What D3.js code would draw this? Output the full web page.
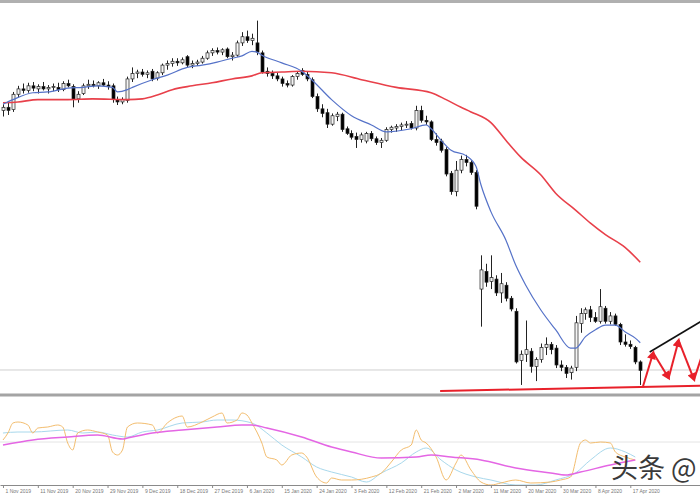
<!DOCTYPE html>
<html>
<head>
<meta charset="utf-8">
<script src="https://cdn.jsdelivr.net/npm/d3@7"></script>
<style>
  body { margin: 0; background: #fff; }
  svg { display: block; }
</style>
</head>
<body>
<div id="chart"></div>
<script>
// daily candles, 1 Nov 2019 .. Apr 2020 (bar index = position in arrays)
const opens  = [53.8,54.2,53.9,55.9,56.6,56.4,57.0,56.6,56.9,56.6,56.8,56.8,56.5,57.3,56.9,55.3,56.0,57.0,57.2,57.0,
                57.4,57.1,57.0,55.2,54.9,55.1,57.9,58.6,58.8,58.5,58.9,58.0,58.7,59.7,59.9,60.2,60.0,60.8,59.7,59.9,
                60.1,60.6,61.3,61.6,61.4,61.8,60.8,61.0,62.6,63.4,62.9,62.6,61.3,58.9,58.6,58.3,57.9,57.3,57.1,58.2,
                59.0,58.5,57.8,55.6,54.0,53.5,52.0,53.0,53.3,51.4,50.8,50.4,50.0,49.8,50.8,50.1,49.6,49.9,51.3,51.5,
                51.7,51.9,52.1,51.5,53.8,52.5,52.3,50.0,49.8,48.7,45.6,43.2,46.0,47.4,47.0,45.7,30.5,32.8,31.5,31.8,
                30.0,31.0,29.3,27.6,21.2,22.0,22.4,20.4,21.3,22.9,23.3,22.8,20.6,20.3,19.6,20.3,26.0,27.3,27.8,26.8,
                26.3,28.0,26.3,27.0,25.9,23.6,23.3,22.9,21.0];
const highs  = [54.6,55.0,56.2,57.0,57.3,57.4,57.5,57.2,57.5,57.1,57.3,57.4,57.6,57.8,57.2,56.3,57.3,57.8,57.7,57.6,
                57.9,57.6,57.3,55.6,55.5,58.2,59.4,59.1,59.2,59.0,59.2,58.9,59.9,60.3,60.6,60.6,60.7,61.0,60.3,60.4,
                60.9,61.6,61.9,62.0,61.9,62.0,61.4,62.9,64.0,64.2,63.8,65.5,61.6,59.4,59.0,58.7,58.2,57.7,58.4,58.8,
                59.3,58.8,58.1,56.0,54.6,54.0,53.4,53.6,53.5,51.7,51.2,50.9,50.9,51.0,51.1,50.4,50.2,51.6,51.8,52.0,
                52.2,52.4,52.4,54.4,54.4,53.1,52.5,50.8,50.1,49.0,45.9,47.2,47.9,48.0,47.3,46.0,34.9,33.8,34.9,32.3,
                32.6,31.4,29.6,28.0,22.5,26.4,22.8,21.6,23.4,24.2,23.6,23.2,21.2,20.6,20.5,27.0,28.0,28.1,28.3,27.5,
                30.5,28.3,27.5,27.3,26.1,24.6,23.8,23.1,21.2];
const lows   = [53.0,53.2,53.6,55.5,56.0,56.1,56.3,56.0,56.4,56.0,56.3,56.2,56.3,56.8,54.2,54.8,55.8,56.6,56.8,56.6,
                57.0,56.5,54.8,54.5,54.6,54.8,57.5,58.0,58.2,58.0,57.6,57.7,58.4,59.1,59.5,59.6,59.8,59.4,59.3,59.6,
                59.9,60.4,60.9,61.1,61.0,60.6,60.3,60.8,62.2,62.6,62.3,61.0,58.6,58.2,57.9,57.6,56.9,56.8,56.9,57.8,
                58.3,57.6,55.4,53.6,52.9,51.5,51.8,52.4,51.0,50.6,50.0,48.9,49.6,49.5,49.8,49.3,48.9,49.7,50.9,51.0,
                51.2,51.5,51.3,51.2,52.2,51.9,49.8,49.2,48.3,45.2,42.8,42.6,45.6,46.5,45.4,40.9,25.6,30.8,30.5,29.6,
                28.7,28.9,27.6,20.8,18.0,21.0,19.6,18.5,20.9,21.9,22.0,20.2,19.8,18.9,18.7,19.8,24.8,26.5,26.2,26.1,
                26.0,26.0,25.9,25.7,23.2,23.0,22.7,20.7,18.0];
const closes = [54.2,53.8,55.9,56.6,56.4,57.0,56.7,56.9,56.6,56.8,56.9,56.5,57.3,57.0,55.2,55.9,57.0,57.2,57.0,57.4,
                57.1,56.9,55.2,54.9,55.2,57.9,58.6,58.8,58.5,58.7,57.9,58.7,59.7,59.9,60.2,60.0,60.4,59.7,59.9,60.1,
                60.6,61.3,61.6,61.4,61.7,60.8,61.0,62.6,63.4,62.9,63.2,61.4,58.8,58.6,58.3,57.9,57.3,57.1,58.2,58.6,
                58.5,57.9,55.6,54.0,53.4,52.0,53.1,53.3,51.3,50.8,50.3,50.0,50.6,50.8,50.1,49.6,49.9,51.3,51.6,51.7,
                51.9,52.0,51.5,53.8,52.5,52.3,50.0,49.6,48.6,45.5,43.2,46.0,47.4,47.0,45.7,41.3,33.0,31.4,32.0,30.0,
                31.2,29.3,27.9,21.0,22.0,22.6,20.4,21.3,22.9,23.3,22.6,20.6,20.3,19.5,20.2,26.1,27.3,27.8,26.8,26.3,
                28.2,26.3,27.0,25.9,23.6,23.3,23.0,21.0,19.9];

// fast moving average (blue), read at these bars
const fastBars = [0,2,6,9,13,16,19,22,23,25,26,30,33,37,40,43,46,48,50,51,52,56,60,62,66,70,74,77,82,85,86,88,90,93,95,96,98,101,103,105,108,111,114,115,117,119,121,123,125,127,128];
const fastVals = [54.6,55.2,56.1,56.2,56.7,56.8,57.0,56.8,56.2,56.5,56.8,57.8,58.4,59.4,59.7,60.1,60.6,60.9,61.5,61.4,61.0,60.0,58.9,57.8,55.2,53.1,51.9,51.0,51.4,51.9,51.4,49.9,48.6,47.9,46.5,44.1,40.6,36.9,33.6,31.0,27.8,25.2,22.8,22.8,24.3,25.2,25.8,25.8,24.9,24.1,23.5];

// slow moving average (red)
const slowBars = [0,3,7,13,18,25,28,31,34,38,42,46,50,52,56,60,66,72,79,86,89,92,94,98,101,104,108,111,115,118,121,125,128];
const slowVals = [54.8,54.9,55.2,55.2,55.3,55.2,55.3,55.8,56.5,57.0,57.4,57.9,58.3,58.7,58.8,58.9,58.7,57.8,56.8,56.1,55.2,54.2,53.6,52.2,49.9,47.7,45.4,43.0,40.8,39.1,37.6,35.9,34.0];

// oscillator window lines
const oscOrangeBars = [0,1,2,3,5,6,7,9,11,12,13,14,15,17,19,21,22,23,24,25,27,30,31,33,35,36,37,40,42,44,45,47,48,49,50,52,53,55,56,58,60,61,63,65,66,68,70,74,76,78,80,82,83,84,85,87,89,91,92,94,96,98,100,103,106,110,112,114,116,117,118,120,122,123,125,127];
const oscOrangeVals = [45,52,62,63,60,52,57,58,60,58,42,35,52,55,53,50,33,30,35,58,62,60,52,62,68,69,58,63,68,72,62,65,72,70,62,42,28,25,20,30,32,28,8,2,7,5,5,8,12,23,35,40,55,45,42,28,5,22,30,15,3,0,2,5,2,3,5,8,42,45,42,43,42,33,28,25];
const oscBlueBars = [0,3,6,13,16,19,22,25,28,31,36,40,43,46,50,53,56,60,63,66,70,73,76,80,83,85,88,91,95,98,103,107,111,115,118,122,125,127];
const oscBlueVals = [52,53,53,55,52,53,50,48,53,55,62,63,65,65,62,52,40,28,18,13,8,3,12,22,33,37,25,15,8,5,0,0,5,12,25,37,33,28];
const oscPinkBars = [0,6,13,19,24,25,30,36,43,48,50,53,60,66,70,76,83,86,90,96,103,110,113,116,122,127];
const oscPinkVals = [40,45,48,50,46,47,52,55,58,60,60,57,48,38,33,27,28,30,28,25,17,12,10,13,20,25];
const oscLevels = [43];

// date axis
const tickBars = [0,7,14,21,28,35,42,49,56,63,70,77,84,91,98,105,112,119,126];
const dateLabels = ["1 Nov 2019","11 Nov 2019","20 Nov 2019","29 Nov 2019","9 Dec 2019","18 Dec 2019","27 Dec 2019",
                    "6 Jan 2020","15 Jan 2020","24 Jan 2020","3 Feb 2020","12 Feb 2020","21 Feb 2020","2 Mar 2020",
                    "11 Mar 2020","20 Mar 2020","30 Mar 2020","8 Apr 2020","17 Apr 2020"];

// drawn objects (bar, price)
const levelPrice = 19.95;
const supportLine = [[87.8,17.21],[140.5,17.9]];
const upperLine = [[129.9,22.3],[140.5,26.4]];
const zigzag = [[128.5,17.7],[130.6,22.2],[133.7,18.9],[135.7,23.8],[138.8,18.7],[141.2,23.4]];

const width = 700, height = 500;
const mainTop = 3, mainBottom = 392, oscTop = 397, oscBottom = 485;

const svg = d3.select("#chart").append("svg").attr("width", width).attr("height", height);
const defs = svg.append("defs");
defs.append("clipPath").attr("id", "clipMain").append("rect")
    .attr("x", 0).attr("y", mainTop).attr("width", width).attr("height", mainBottom - mainTop);
defs.append("clipPath").attr("id", "clipOsc").append("rect")
    .attr("x", 0).attr("y", oscTop).attr("width", width).attr("height", oscBottom - oscTop);
defs.append("marker").attr("id", "arrow").attr("viewBox", "0 0 10 10")
    .attr("refX", 7).attr("refY", 5).attr("markerWidth", 5).attr("markerHeight", 4.5)
    .attr("orient", "auto").attr("markerUnits", "strokeWidth")
    .append("path").attr("d", "M0,0 L10,5 L0,10 z").attr("fill", "#e8202a");

const xScale = d3.scaleLinear().domain([-0.6, 140]).range([0, width]);
const yScale = d3.scaleLinear().domain([17.08, 67.8]).range([mainBottom, mainTop]);
const oscScale = d3.scaleLinear().domain([0, 100]).range([oscBottom, oscBottom - 100]);

svg.append("rect").attr("width", width).attr("height", height).attr("fill", "#fff");
svg.append("rect").attr("x", 0).attr("y", 0).attr("width", width).attr("height", 3).attr("fill", "#b0b0b0");

const main = svg.append("g").attr("clip-path", "url(#clipMain)");

// price level line
main.append("line")
    .attr("x1", 0).attr("x2", width)
    .attr("y1", yScale(levelPrice)).attr("y2", yScale(levelPrice))
    .attr("stroke", "#cfcfcf").attr("stroke-width", 1);

// candles
const candles = d3.range(opens.length).map(i => ({i: i, o: opens[i], h: highs[i], l: lows[i], c: closes[i]}));
const bodyW = 3;
const cg = main.append("g");
cg.selectAll("line.wick").data(candles).enter().append("line")
    .attr("x1", d => Math.round(xScale(d.i)) + 0.5).attr("x2", d => Math.round(xScale(d.i)) + 0.5)
    .attr("y1", d => yScale(d.h)).attr("y2", d => yScale(d.l))
    .attr("stroke", "#222").attr("stroke-width", 1);
cg.selectAll("rect").data(candles).enter().append("rect")
    .attr("x", d => Math.round(xScale(d.i)) - 1)
    .attr("y", d => yScale(Math.max(d.o, d.c)))
    .attr("width", bodyW)
    .attr("height", d => Math.max(1, Math.abs(yScale(d.o) - yScale(d.c))))
    .attr("fill", d => d.c >= d.o ? "#f4f4f4" : "#000")
    .attr("stroke", "#222").attr("stroke-width", 0.7);

// moving averages
const priceLine = d3.line().x(d => xScale(d[0])).y(d => yScale(d[1])).curve(d3.curveMonotoneX);
main.append("path").datum(slowBars.map((b, k) => [b, slowVals[k]]))
    .attr("d", priceLine).attr("fill", "none").attr("stroke", "#e8404a").attr("stroke-width", 1.6);
main.append("path").datum(fastBars.map((b, k) => [b, fastVals[k]]))
    .attr("d", priceLine).attr("fill", "none").attr("stroke", "#5572c8").attr("stroke-width", 1.2);

// drawn objects
const straight = d3.line().x(d => xScale(d[0])).y(d => yScale(d[1]));
main.append("path").datum(supportLine).attr("d", straight)
    .attr("fill", "none").attr("stroke", "#e8202a").attr("stroke-width", 2);
main.append("path").datum(upperLine).attr("d", straight)
    .attr("fill", "none").attr("stroke", "#111").attr("stroke-width", 1.6);
const segs = d3.pairs(zigzag);
main.selectAll("path.zig").data(segs).enter().append("path")
    .attr("class", "zig").attr("d", straight)
    .attr("fill", "none").attr("stroke", "#e8202a").attr("stroke-width", 2)
    .attr("marker-end", "url(#arrow)");

// panel separator
svg.append("rect").attr("x", 0).attr("y", 393.5).attr("width", width).attr("height", 3).attr("fill", "#a4a4a4");

// oscillator window
const osc = svg.append("g").attr("clip-path", "url(#clipOsc)");
osc.selectAll("line.level").data(oscLevels).enter().append("line")
    .attr("x1", 0).attr("x2", width)
    .attr("y1", d => oscScale(d)).attr("y2", d => oscScale(d))
    .attr("stroke", "#e4e4e4").attr("stroke-width", 1);
const oscLine = d3.line().x(d => xScale(d[0])).y(d => oscScale(d[1])).curve(d3.curveMonotoneX);
osc.append("path").datum(oscBlueBars.map((b, k) => [b, oscBlueVals[k]]))
    .attr("d", oscLine).attr("fill", "none").attr("stroke", "#a8d8ec").attr("stroke-width", 1);
osc.append("path").datum(oscOrangeBars.map((b, k) => [b, oscOrangeVals[k]]))
    .attr("d", oscLine).attr("fill", "none").attr("stroke", "#f3bd6e").attr("stroke-width", 1);
osc.append("path").datum(oscPinkBars.map((b, k) => [b, oscPinkVals[k]]))
    .attr("d", oscLine).attr("fill", "none").attr("stroke", "#e466e4").attr("stroke-width", 1.5);

// date axis
const axis = svg.append("g").attr("transform", "translate(0," + oscBottom + ")")
    .call(d3.axisBottom(xScale).tickValues(tickBars).tickFormat((d, i) => dateLabels[i]).tickSize(3).tickSizeOuter(0));
axis.select(".domain").attr("stroke", "#8a8a8a");
axis.selectAll(".tick line").attr("stroke", "#8a8a8a");
axis.selectAll(".tick text")
    .attr("y", 4).attr("x", 2).attr("text-anchor", "start")
    .attr("fill", "#777").style("font-size", "5px").style("font-family", "Arial, 'Liberation Sans', sans-serif");

// watermark
svg.append("text").attr("x", 611).attr("y", 478)
    .attr("font-family", "'Noto Sans CJK SC', sans-serif").attr("font-size", 27)
    .attr("fill", "#3a3a3a")
    .text("头条 @");
</script>
</body>
</html>
